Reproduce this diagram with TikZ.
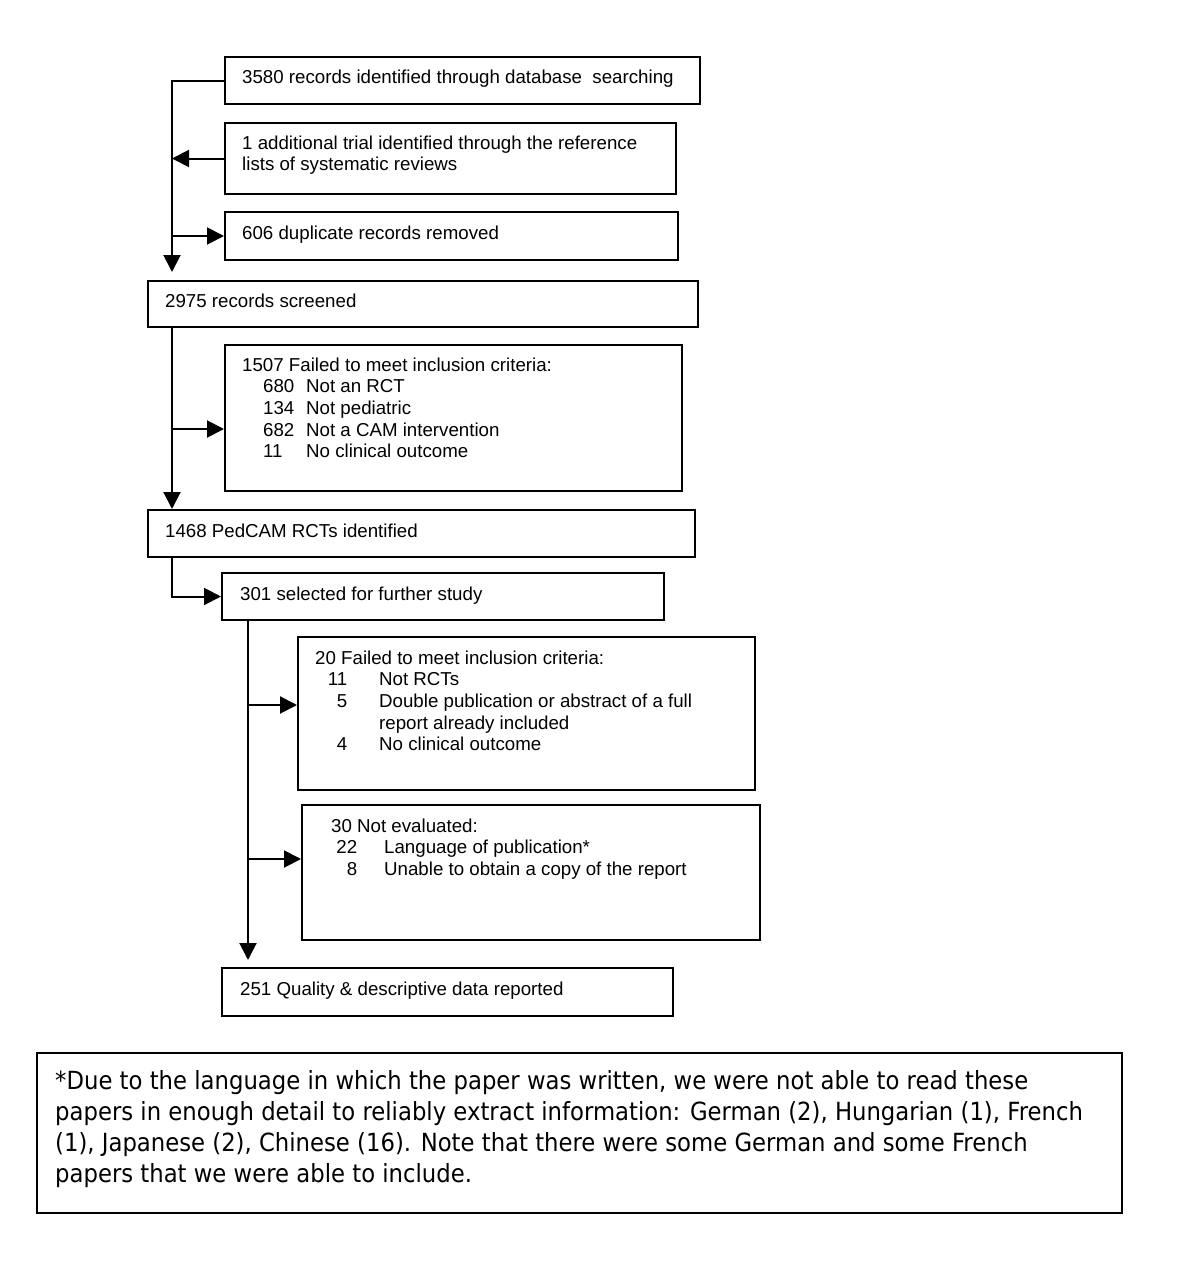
\documentclass[tikz,border=0pt]{standalone}
\usepackage{fontspec}
\setmainfont{Liberation Sans}
\newfontfamily\fnfont[FakeStretch=0.91]{DejaVu Sans}
\usetikzlibrary{arrows.meta,calc}
\newcommand{\mainsz}{\fontsize{18.7}{21.7}\selectfont}
\newcommand{\fnsz}{\fnfont\fontsize{25}{31}\selectfont}
\tikzset{
  box/.style={draw, line width=2pt, inner sep=0pt, anchor=north west},
  txt/.style={anchor=base west, inner sep=0pt, font=\mainsz, align=left},
  ln/.style={line width=2pt},
  arr/.style={line width=2pt, -{Triangle[length=17pt,width=17pt]}},
}
\begin{document}
\begin{tikzpicture}[x=1pt,y=-1pt]
\useasboundingbox[fill=white] (0,0) rectangle (1197,1263);
% boxes
\node[box, minimum width=475pt, minimum height=47pt]  (b1)  at (224,56)  {};
\node[box, minimum width=451pt, minimum height=71pt]  (b2)  at (224,122) {};
\node[box, minimum width=453pt, minimum height=48pt]  (b3)  at (224,211) {};
\node[box, minimum width=550pt, minimum height=46pt]  (b4)  at (147,280) {};
\node[box, minimum width=457pt, minimum height=146pt] (b5)  at (224,344) {};
\node[box, minimum width=547pt, minimum height=47pt]  (b6)  at (147,509) {};
\node[box, minimum width=442pt, minimum height=47pt]  (b7)  at (221,572) {};
\node[box, minimum width=457pt, minimum height=153pt] (b8)  at (297,636) {};
\node[box, minimum width=458pt, minimum height=135pt] (b9)  at (301,804) {};
\node[box, minimum width=451pt, minimum height=48pt]  (b10) at (221,967) {};
\node[box, minimum width=1085pt, minimum height=160pt] (fn) at (36,1052) {};
% texts
\node[txt] (t1) at (242,83) {3580 records identified through database\ \ searching};
\node[txt] (t2) at (242,149) {\begin{tabular}[t]{@{}l@{}}1 additional trial identified through the reference\\lists of systematic reviews\end{tabular}};
\node[txt] (t3) at (242,239) {606 duplicate records removed};
\node[txt] (t4) at (165,307) {2975 records screened};
\node[txt] (t5) at (242,371) {\begin{tabular}[t]{@{}l@{}}1507 Failed to meet inclusion criteria:\\
\hspace*{21pt}\makebox[43pt][l]{680}Not an RCT\\
\hspace*{21pt}\makebox[43pt][l]{134}Not pediatric\\
\hspace*{21pt}\makebox[43pt][l]{682}Not a CAM intervention\\
\hspace*{21pt}\makebox[43pt][l]{11}No clinical outcome\end{tabular}};
\node[txt] (t6) at (165,537) {1468 PedCAM RCTs identified};
\node[txt] (t7) at (240,600) {301 selected for further study};
\node[txt] (t8) at (315,664) {\begin{tabular}[t]{@{}l@{}}20 Failed to meet inclusion criteria:\\
\makebox[32pt][r]{11}\hspace*{32pt}Not RCTs\\
\makebox[32pt][r]{5}\hspace*{32pt}Double publication or abstract of a full\\
\makebox[32pt][r]{}\hspace*{32pt}report already included\\
\makebox[32pt][r]{4}\hspace*{32pt}No clinical outcome\end{tabular}};
\node[txt] (t9) at (331,832) {\begin{tabular}[t]{@{}l@{}}30 Not evaluated:\\
\makebox[26pt][r]{22}\hspace*{27pt}Language of publication*\\
\makebox[26pt][r]{8}\hspace*{27pt}Unable to obtain a copy of the report\end{tabular}};
\node[txt] (t10) at (240,995) {251 Quality \& descriptive data reported};
\node[txt, font=\fnsz] (tf) at (55,1089) {\begin{tabular}[t]{@{}l@{}}*Due to the language in which the paper was written, we were not able to read these\\
papers in enough detail to reliably extract information: German (2), Hungarian (1), French\\
(1), Japanese (2), Chinese (16). Note that there were some German and some French\\
papers that we were able to include.\end{tabular}};
% connectors
\coordinate (s1) at (172,81);
\coordinate (s1e) at (172,272);
\coordinate (s2a) at (172,429);
\coordinate (s3a) at (248,705);
\coordinate (s3b) at (248,859);
\coordinate (s3e) at (248,960);
\draw[arr] (b1.west |- s1) -- (s1) -- (s1e);
\draw[arr] (b2.west) -- (b2.west -| s1);
\draw[arr] (b3.west -| s1) -- (b3.west);
\draw[arr] (b4.south -| s1) -- (b6.north -| s1);
\draw[arr] (s2a) -- (s2a -| b5.west);
\draw[arr] (b6.south -| s1) |- (b7.west);
\draw[arr] (b7.south -| s3a) -- (s3e);
\draw[arr] (s3a) -- (s3a -| b8.west);
\draw[arr] (s3b) -- (s3b -| b9.west);
\end{tikzpicture}
\end{document}
